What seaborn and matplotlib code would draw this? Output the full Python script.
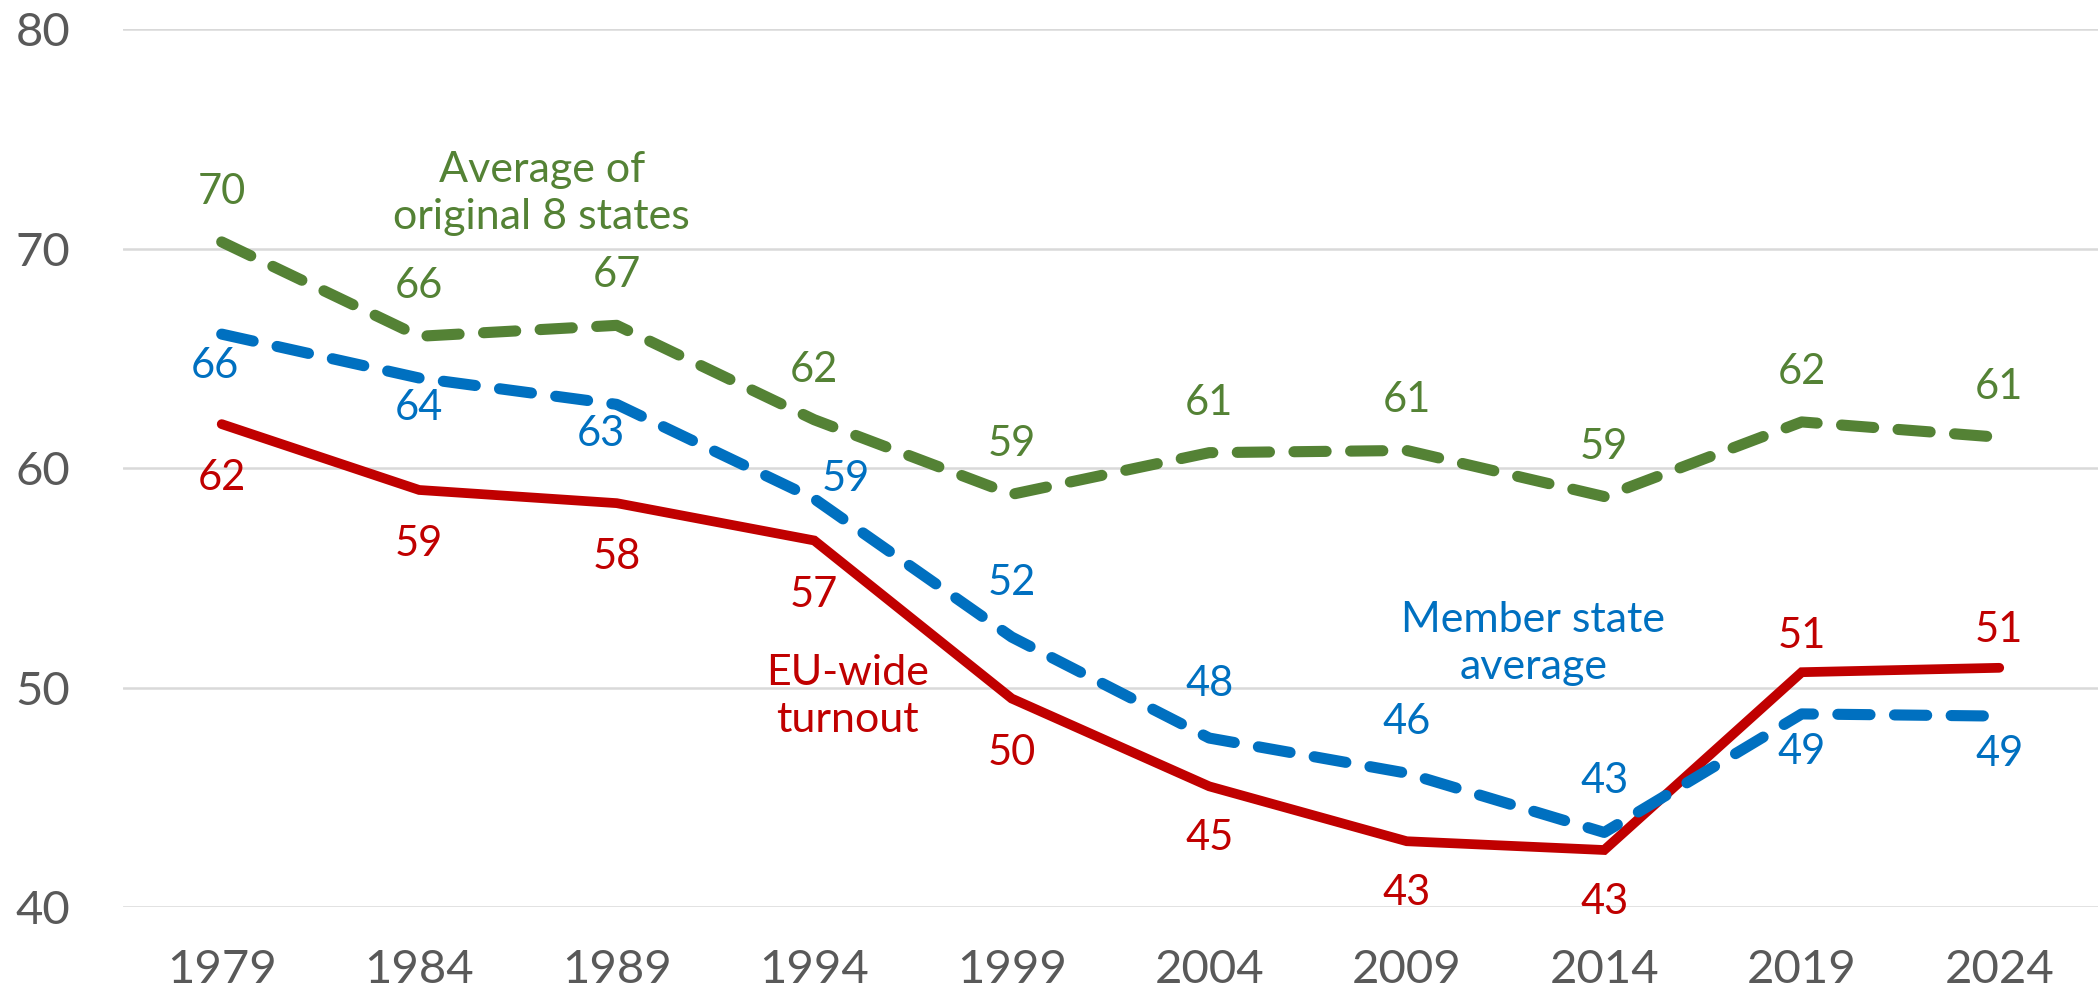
import pandas as pd
import seaborn as sns
import matplotlib.pyplot as plt

# Données : participation aux élections européennes (%)
years = [1979, 1984, 1989, 1994, 1999, 2004, 2009, 2014, 2019, 2024]
eu_wide = [62.0, 59.0, 58.4, 56.7, 49.5, 45.5, 43.0, 42.6, 50.7, 50.9]
member_avg = [66.1, 64.1, 62.9, 58.6, 52.3, 47.7, 46.1, 43.4, 48.8, 48.7]
original8 = [70.3, 66.0, 66.5, 62.2, 58.8, 60.7, 60.8, 58.7, 62.1, 61.4]

eu_labels = ["62", "59", "58", "57", "50", "45", "43", "43", "51", "51"]
member_labels = ["66", "64", "63", "59", "52", "48", "46", "43", "49", "49"]
orig_labels = ["70", "66", "67", "62", "59", "61", "61", "59", "62", "61"]

yticks = [40, 50, 60, 70, 80]

RED = "#C00000"
BLUE = "#0070C0"
GREEN = "#548235"
GREY = "#595959"

sns.set_theme(style="white")
plt.rcParams['font.family'] = ['Lato', 'DejaVu Sans']

df = pd.DataFrame({"year": years, "eu": eu_wide, "member": member_avg, "orig": original8})

fig = plt.figure(figsize=(20.98, 9.99), dpi=100)
ax = fig.add_axes([0.0586, 0.092, 0.9414, 0.879])

for v in yticks:
    ax.axhline(v, color="#D9D9D9", linewidth=1.8, zorder=0)

sns.lineplot(data=df, x="year", y="eu", ax=ax, color=RED, linewidth=7,
             solid_capstyle="round", solid_joinstyle="miter", zorder=3)
sns.lineplot(data=df, x="year", y="member", ax=ax, color=BLUE, linewidth=8,
             linestyle=(0, (2.9, 2.2)), dash_capstyle="round", zorder=4)
sns.lineplot(data=df, x="year", y="orig", ax=ax, color=GREEN, linewidth=8,
             linestyle=(0, (2.9, 2.2)), dash_capstyle="round", zorder=5)

# Étiquettes de données (décalage en pixels)
def put_labels(values, labels, color, offsets):
    for x, y, t, off in zip(years, values, labels, offsets):
        ax.annotate(t, (x, y), xytext=(off[0] * 0.72, off[1] * 0.72), textcoords="offset points",
                    ha="center", va="center", fontsize=30, color=color, zorder=6)

put_labels(original8, orig_labels, GREEN, [(0, 50)] * 10)
put_labels(eu_wide, eu_labels, RED,
           [(0, -54), (0, -54), (0, -54), (0, -55), (0, -54), (0, -52), (0, -52), (0, -52), (0, 36), (0, 38)])
put_labels(member_avg, member_labels, BLUE,
           [(-7, -32), (0, -30), (-16, -30), (32, 20), (0, 54), (0, 54), (0, 51), (0, 51), (0, -38), (0, -38)])

# Noms des séries
ax.text(1987.1, 72.5, "Average of\noriginal 8 states", color=GREEN, fontsize=31,
        ha="center", va="center", linespacing=1.3)
ax.text(2012.2, 52.0, "Member state\naverage", color=BLUE, fontsize=31,
        ha="center", va="center", linespacing=1.3)
ax.text(1994.85, 49.6, "EU-wide\nturnout", color=RED, fontsize=31,
        ha="center", va="center", linespacing=1.3)

ax.set_xlim(years[0] - 2.5, years[-1] + 2.5)
ax.set_ylim(40, 80)
ax.set_xticks(years)
ax.set_yticks(yticks)
ax.set_xlabel("")
ax.set_ylabel("")
ax.tick_params(axis="both", length=0, labelsize=34, colors=GREY)
ax.tick_params(axis="y", pad=38)
ax.tick_params(axis="x", pad=30)
sns.despine(ax=ax, left=True, bottom=True)
ax.grid(False)

fig.savefig("out.png", dpi=100)
